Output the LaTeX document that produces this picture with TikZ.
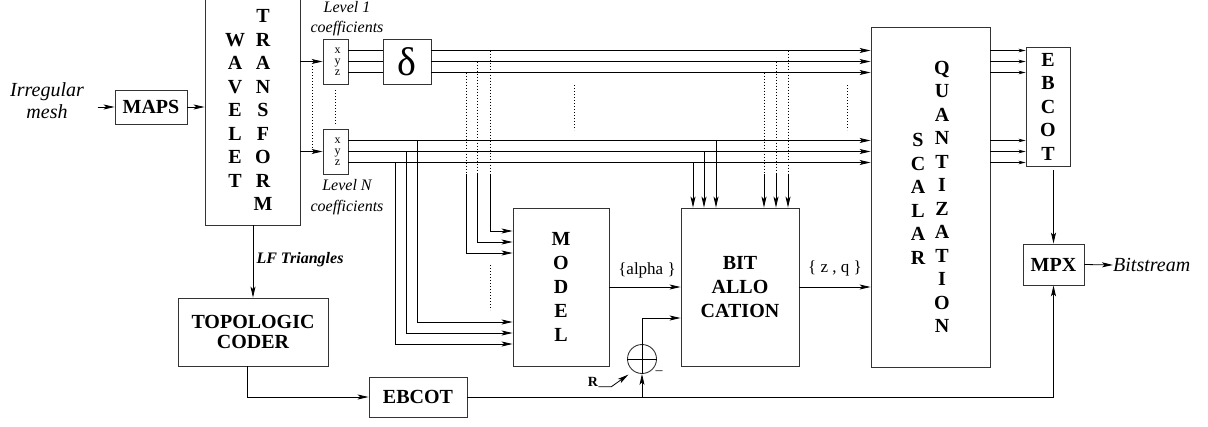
\documentclass[tikz,border=0pt]{standalone}
\usepackage{fontspec}
\setmainfont{Liberation Serif}
\usetikzlibrary{arrows.meta,calc}
\begin{document}
\begin{tikzpicture}[x=1pt,y=-1pt,
  box/.style={draw=black!80,line width=0.9pt,inner sep=0pt,align=center},
  bf/.style={font=\fontsize{20}{24}\selectfont\bfseries},
  lbl/.style={font=\fontsize{20}{23.5}\selectfont\bfseries,align=center,inner sep=0pt},
  ln/.style={line width=0.8pt},
  arr/.style={ln,-{Stealth[length=11pt,width=5pt,inset=2.5pt]}},
  sarr/.style={ln,-{Stealth[length=7pt,width=3.5pt,inset=2pt]}},
  dots/.style={ln,dash pattern=on 0.8pt off 2.2pt},
]
\useasboundingbox (0,0) rectangle (1208,426);

% ---------- nodes ----------
\node[font=\fontsize{20}{22}\selectfont\itshape,align=center,inner sep=0pt] (mesh) at (47,101) {Irregular\\mesh};
\node[box,bf,minimum width=72pt,minimum height=34pt] (maps) at (151,107) {MAPS};
\node[box,minimum width=95pt,minimum height=226pt] (wt) at (252.5,112) {};
\node[lbl] (wtA) at (235,110) {W\\A\\V\\E\\L\\E\\T};
\node[lbl] (wtB) at (263,110) {T\\R\\A\\N\\S\\F\\O\\R\\M};

\node[box,minimum width=25pt,minimum height=45pt,font=\fontsize{12}{11}\selectfont] (xyz1) at (335.5,61.5) {\hspace*{4pt}x\\\hspace*{4pt}y\\\hspace*{4pt}z};
\node[box,minimum width=25pt,minimum height=45pt,font=\fontsize{12}{11}\selectfont] (xyz2) at (335.5,151.5) {\hspace*{4pt}x\\\hspace*{4pt}y\\\hspace*{4pt}z};
\node[box,minimum width=48pt,minimum height=45pt,font=\fontsize{40}{40}\selectfont] (delta) at (407,61.5) {δ};

\node[font=\fontsize{16}{20}\selectfont\itshape,align=center,inner sep=0pt] (lev1) at (347,18.5) {Level 1\\coefficients};
\node[font=\fontsize{16}{21}\selectfont\itshape,align=center,inner sep=0pt] (levN) at (347,197) {Level N\\coefficients};

\node[box,minimum width=119pt,minimum height=340pt] (sq) at (930.5,197) {};
\node[lbl] (sqA) at (918,199) {S\\C\\A\\L\\A\\R};
\node[lbl] (sqB) at (942,197) {Q\\U\\A\\N\\T\\I\\Z\\A\\T\\I\\O\\N};

\node[box,minimum width=44pt,minimum height=119pt,font=\fontsize{20}{23.5}\selectfont\bfseries] (ebc1) at (1048,106.5) {E\\B\\C\\O\\T};
\node[box,bf,minimum width=61pt,minimum height=41pt] (mpx) at (1053.5,264.5) {MPX};
\node[font=\fontsize{20}{22}\selectfont\itshape,anchor=west,inner sep=0pt] (bits) at (1113,265) {Bitstream};

\node[box,bf,minimum width=96pt,minimum height=158pt] (model) at (561,287) {M\\O\\D\\E\\L};
\node[box,bf,minimum width=118pt,minimum height=158pt] (bit) at (740,287) {BIT\\ALLO\\CATION};
\node[draw=black!80,line width=0.9pt,circle,minimum size=29pt,inner sep=0pt] (sum) at (642,359) {};

\node[box,minimum width=150pt,minimum height=68pt,font=\fontsize{20}{20}\selectfont\bfseries] (topo) at (253,332) {TOPOLOGIC\\CODER};
\node[box,bf,minimum width=98pt,minimum height=40pt] (ebc2) at (418,397) {EBCOT};

\node[font=\fontsize{16}{16}\selectfont\bfseries\itshape,inner sep=0pt] (lf) at (300,260) {LF Triangles};
\node[font=\fontsize{17}{17}\selectfont,inner sep=0pt] (alpha) at (647,270) {\{alpha \}};
\node[font=\fontsize{17}{17}\selectfont,inner sep=0pt] (zq) at (835,268) {\{ z , q \}};
\node[font=\fontsize{14}{14}\selectfont\bfseries,inner sep=0pt] (R) at (593,382) {R};
\node[font=\fontsize{14}{14}\selectfont,inner sep=0pt] (minus) at (659,373) {–};

% ---------- summation cross ----------
\draw[ln] (sum.west) -- (sum.east);
\draw[ln] (sum.north) -- (sum.south);

% ---------- bus coordinates ----------
\coordinate (u1) at ([yshift=11pt]xyz1.east);
\coordinate (u2) at (xyz1.east);
\coordinate (u3) at ([yshift=-11pt]xyz1.east);
\coordinate (v1) at ([yshift=11pt]xyz2.east);
\coordinate (v2) at (xyz2.east);
\coordinate (v3) at ([yshift=-11pt]xyz2.east);
\coordinate (dz) at (xyz2.south);

\coordinate (t1) at ([xshift=-117pt]model.west);
\coordinate (t2) at ([xshift=-106pt]model.west);
\coordinate (t3) at ([xshift=-95pt]model.west);
\coordinate (t4) at ([xshift=-46pt]model.west);
\coordinate (t5) at ([xshift=-35pt]model.west);
\coordinate (t6) at ([xshift=-22pt]model.west);

\coordinate (b1) at ([xshift=-47pt]bit.north);
\coordinate (b2) at ([xshift=-36pt]bit.north);
\coordinate (b3) at ([xshift=-24pt]bit.north);
\coordinate (b4) at ([xshift=24pt]bit.north);
\coordinate (b5) at ([xshift=36pt]bit.north);
\coordinate (b6) at ([xshift=48pt]bit.north);

% ---------- connectors ----------
\draw[arr] (maps.west) ++(-17,0) -- (maps.west);
\draw[arr] (maps.east) -- (maps.east -| wt.west);
\draw[arr] (xyz1.west -| wt.east) -- (xyz1.west);
\draw[arr] (xyz2.west -| wt.east) -- (xyz2.west);

\foreach \p in {u1,u2,u3}{
  \draw[ln] (\p) -- (\p -| delta.west);
  \draw[arr] (\p -| delta.east) -- (\p -| sq.west);
  \draw[sarr] (\p -| sq.east) -- (\p -| ebc1.west);
}
\foreach \p in {v1,v2,v3}{
  \draw[arr] (\p) -- (\p -| sq.west);
  \draw[sarr] (\p -| sq.east) -- (\p -| ebc1.west);
}

% taps to MODEL
\draw[arr] (v3 -| t1) |- ([yshift=-57pt]model.west);
\draw[arr] (v2 -| t2) |- ([yshift=-46pt]model.west);
\draw[arr] (v1 -| t3) |- ([yshift=-35pt]model.west);
\draw[dots] (u3 -| t4) -- (dz -| t4);
\draw[arr] (dz -| t4) |- ([yshift=34pt]model.west);
\draw[dots] (u2 -| t5) -- (dz -| t5);
\draw[arr] (dz -| t5) |- ([yshift=45pt]model.west);
\draw[dots] (u1 -| t6) -- (dz -| t6);
\draw[arr] (dz -| t6) |- ([yshift=56pt]model.west);

% taps to BIT ALLOCATION
\draw[arr] (v3 -| b1) -- (b1);
\draw[arr] (v2 -| b2) -- (b2);
\draw[arr] (v1 -| b3) -- (b3);
\draw[dots] (u3 -| b4) -- (dz -| b4);
\draw[arr] (dz -| b4) -- (b4);
\draw[dots] (u2 -| b5) -- (dz -| b5);
\draw[arr] (dz -| b5) -- (b5);
\draw[dots] (u1 -| b6) -- (dz -| b6);
\draw[arr] (dz -| b6) -- (b6);

\draw[arr] (model.east) -- (bit.west);
\draw[arr] (bit.east) -- (bit.east -| sq.west);
\draw[arr] (sum.north) |- ([yshift=-31pt]bit.west);
\draw[arr] (sum.south |- ebc2.east) -- (sum.south);
\draw[arr] (R.south east) -- ++(13,0) -- ($(sum.south west)+(-3,5)$);

\draw[arr] (wt.south -| topo.north) -- (topo.north);
\draw[arr] ([xshift=-6pt]topo.south) |- (ebc2.west);
\draw[arr] (ebc2.east) -| (mpx.south);
\draw[arr] (mpx.north |- ebc1.south) ++(0,4) -- (mpx.north);
\draw[arr] (mpx.east) -- (bits.west);

% ---------- ellipsis dots ----------
\draw[dots] (312,66) -- (312,148);
\draw[dots] (335,90) -- (335,124);
\draw[dots] (574,85) -- (574,130);
\draw[dots] (847,85) -- (847,130);
\draw[dots] (490,265) -- (490,310);
\end{tikzpicture}
\end{document}
